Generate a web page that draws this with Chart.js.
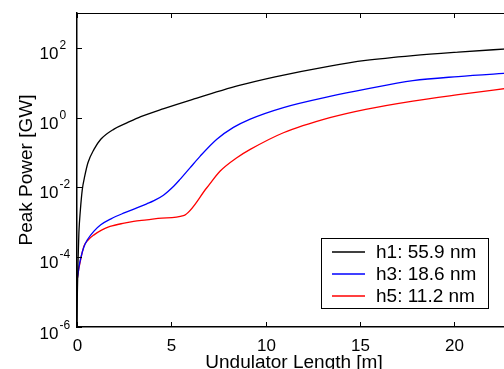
<!DOCTYPE html>
<html>
<head>
<meta charset="utf-8">
<script src="https://cdn.jsdelivr.net/npm/chart.js@4.4.1/dist/chart.umd.min.js"></script>
<style>
    html, body { margin: 0; padding: 0; overflow: hidden; background: #fff; }
    #wrap { width: 511px; height: 369px; position: relative; }
</style>
</head>
<body>
<div id="wrap"><canvas id="powerChart"></canvas></div>
<script>
// Undulator length [m] and peak power [GW] for each harmonic
const h1Length = [0, 0.02, 0.05, 0.1, 0.18, 0.28, 0.41, 0.58, 0.9, 1.26, 1.96, 2.67, 3.38, 4.6, 6.1, 8.65, 10.5, 13.4, 15.3, 17.8, 20.2, 23];
const h1Power = [1.3e-6, 1e-5, 6.3e-5, 5e-4, 2.3e-3, 8.7e-3, 0.021, 0.051, 0.123, 0.24, 0.47, 0.72, 1.07, 1.82, 3.31, 8.5, 14.8, 30.2, 43.7, 60.3, 75.9, 95.5];

const h3Length = [0, 0.05, 0.1, 0.2, 0.37, 0.55, 0.9, 1.26, 1.8, 2.5, 3.2, 3.7, 4.08, 4.58, 5.15, 5.46, 6.0, 6.53, 7.41, 8.29, 9.18, 10.94, 13.4, 15.3, 17.8, 20.2, 23];
const h3Power = [2.14e-5, 3.16e-5, 5.0e-5, 9.5e-5, 2.0e-4, 3.16e-4, 5.6e-4, 8.5e-4, 1.26e-3, 1.86e-3, 2.63e-3, 3.4e-3, 4.2e-3, 6.0e-3, 0.0112, 0.017, 0.037, 0.079, 0.24, 0.525, 0.91, 1.95, 4.07, 6.6, 11.5, 15.1, 19.1];

const h5Length = [0, 0.05, 0.1, 0.2, 0.37, 0.6, 0.9, 1.3, 1.75, 2.5, 3.0, 3.7, 4.5, 5.64, 6.88, 7.59, 8.47, 9.18, 10.94, 13.4, 15.3, 17.8, 20.2, 23];
const h5Power = [2.14e-5, 3.16e-5, 4.79e-5, 8.9e-5, 2.09e-4, 3.16e-4, 4.37e-4, 6.0e-4, 7.6e-4, 9.5e-4, 1.07e-3, 1.17e-3, 1.32e-3, 1.55e-3, 9.8e-3, 0.0295, 0.071, 0.123, 0.37, 1.0, 1.74, 3.0, 4.57, 7.2];

const seriesLabels = ['h1: 55.9 nm', 'h3: 18.6 nm', 'h5: 11.2 nm'];
const seriesColors = ['#000000', '#0000ff', '#ff0000'];

// Axis ticks
const xTicks = [0, 5, 10, 15, 20];
const yTickExponents = [-6, -4, -2, 0, 2];

const FONT = "'Liberation Sans', Arial, Helvetica, sans-serif";

function toPoints(xs, ys) {
    return xs.map((x, i) => ({ x: x, y: ys[i] }));
}

// MATLAB-like axes decoration: inward ticks, 10^n labels, titles, legend box
const matlabAxes = {
    id: 'matlabAxes',
    afterDraw(chart) {
        const ctx = chart.ctx;
        const area = chart.chartArea;
        const xs = chart.scales.x;
        const ys = chart.scales.y;
        ctx.save();
        ctx.strokeStyle = '#000';
        ctx.fillStyle = '#000';
        ctx.lineWidth = 1;

        // top border
        ctx.beginPath();
        ctx.moveTo(area.left, area.top + 0.5);
        ctx.lineTo(area.right, area.top + 0.5);
        ctx.stroke();

        // x ticks and labels
        ctx.font = '17px ' + FONT;
        ctx.textAlign = 'center';
        ctx.textBaseline = 'alphabetic';
        xTicks.forEach(v => {
            const px = Math.round(xs.getPixelForValue(v)) + 0.5;
            ctx.beginPath();
            ctx.moveTo(px, area.bottom);
            ctx.lineTo(px, area.bottom - 5);
            ctx.moveTo(px, area.top);
            ctx.lineTo(px, area.top + 5);
            ctx.stroke();
            ctx.fillText(String(v), px, 351);
        });

        // y ticks and labels
        yTickExponents.forEach(e => {
            const py = Math.round(ys.getPixelForValue(Math.pow(10, e))) + 0.5;
            ctx.beginPath();
            ctx.moveTo(area.left, py);
            ctx.lineTo(area.left + 5, py);
            ctx.stroke();
            const base = e === -6 ? py + 11 : py + 10;
            ctx.font = '17px ' + FONT;
            ctx.textAlign = 'right';
            ctx.fillText('10', 58.5, base);
            ctx.font = '12px ' + FONT;
            ctx.textAlign = 'left';
            ctx.fillText(String(e), 59.5, base - 9.5);
        });

        // axis titles
        ctx.font = '19px ' + FONT;
        ctx.textAlign = 'center';
        ctx.fillText('Undulator Length [m]', (area.left + area.right) / 2, 368);
        ctx.save();
        ctx.translate(32, (area.top + area.bottom) / 2);
        ctx.rotate(-Math.PI / 2);
        ctx.fillText('Peak Power [GW]', 0, 0);
        ctx.restore();

        // legend
        const box = { x: 321.5, y: 238.5, w: 167, h: 70 };
        ctx.fillStyle = '#fff';
        ctx.fillRect(box.x, box.y, box.w, box.h);
        ctx.strokeStyle = '#000';
        ctx.strokeRect(box.x, box.y, box.w, box.h);
        ctx.font = '19px ' + FONT;
        ctx.textAlign = 'left';
        ctx.textBaseline = 'middle';
        chart.data.datasets.forEach((ds, i) => {
            const ly = 252 + i * 22;
            ctx.strokeStyle = ds.borderColor;
            ctx.lineWidth = 1.3;
            ctx.beginPath();
            ctx.moveTo(332, ly);
            ctx.lineTo(365, ly);
            ctx.stroke();
            ctx.fillStyle = '#000';
            ctx.fillText(ds.label, 376, ly + 1);
        });
        ctx.restore();
    }
};

const powerCtx = document.getElementById('powerChart').getContext('2d');
new Chart(powerCtx, {
    type: 'line',
    data: {
        datasets: [
            { label: seriesLabels[0], data: toPoints(h1Length, h1Power), borderColor: seriesColors[0] },
            { label: seriesLabels[1], data: toPoints(h3Length, h3Power), borderColor: seriesColors[1] },
            { label: seriesLabels[2], data: toPoints(h5Length, h5Power), borderColor: seriesColors[2] }
        ]
    },
    options: {
        responsive: true,
        maintainAspectRatio: false,
        animation: false,
        layout: { padding: { top: 13, left: 0, right: 0, bottom: 0 } },
        elements: {
            point: { radius: 0 },
            line: { borderWidth: 1.3, fill: false, cubicInterpolationMode: 'monotone' }
        },
        scales: {
            x: {
                type: 'linear',
                min: 0,
                max: 23,
                grid: { display: false },
                border: { display: true, color: '#000', width: 1.5 },
                ticks: { display: false },
                afterFit: s => { s.height = 42; }
            },
            y: {
                type: 'logarithmic',
                min: 1e-6,
                max: 1e3,
                grid: { display: false },
                border: { display: true, color: '#000', width: 1.5 },
                ticks: { display: false },
                afterFit: s => { s.width = 77; }
            }
        },
        plugins: {
            legend: { display: false },
            tooltip: { enabled: false }
        }
    },
    plugins: [matlabAxes]
});
</script>
</body>
</html>
